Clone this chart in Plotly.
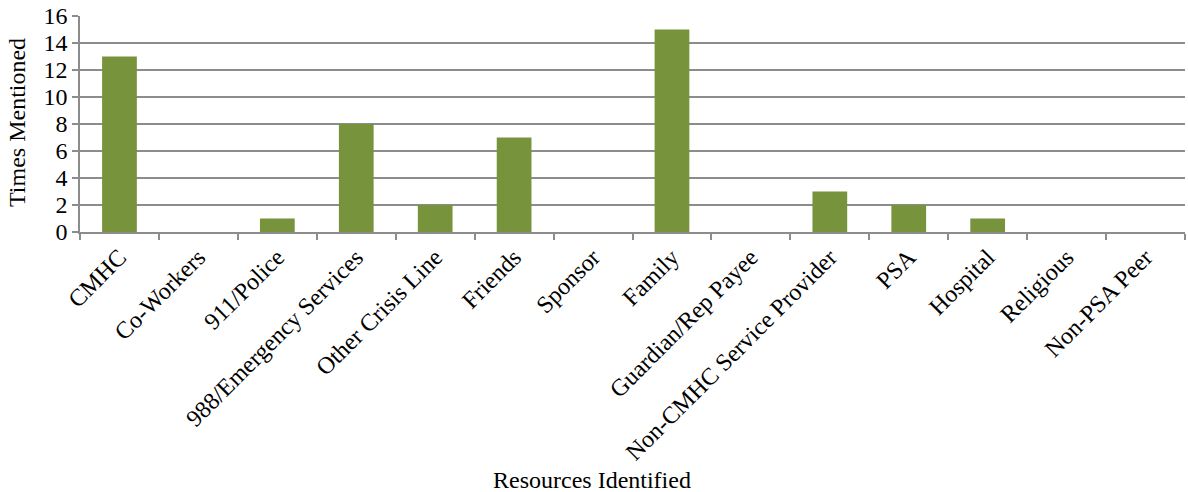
import plotly.graph_objects as go

categories = ["CMHC", "Co-Workers", "911/Police", "988/Emergency Services",
              "Other Crisis Line", "Friends", "Sponsor", "Family",
              "Guardian/Rep Payee", "Non-CMHC Service Provider", "PSA",
              "Hospital", "Religious", "Non-PSA Peer"]
times_mentioned = [13, 0, 1, 8, 2, 7, 0, 15, 0, 3, 2, 1, 0, 0]
y_ticks = [0, 2, 4, 6, 8, 10, 12, 14, 16]

FONT = "Liberation Serif, Times New Roman, serif"
GRID = "#8c8c8c"
SIZE = 24

fig = go.Figure(go.Bar(
    x=categories,
    y=times_mentioned,
    marker=dict(color="#77933C", line=dict(width=0)),
))

fig.update_layout(
    width=1188, height=492,
    margin=dict(l=80, r=3, t=16, b=260),
    paper_bgcolor="white", plot_bgcolor="white",
    font=dict(family=FONT, size=SIZE, color="black"),
    bargap=0.56,
    showlegend=False,
)

fig.update_xaxes(
    type="category",
    tickangle=-45,
    tickson="boundaries",
    ticks="outside", ticklen=6, tickcolor=GRID, tickwidth=1.5,
    showline=True, linecolor=GRID, linewidth=1.5,
    showgrid=False,
    tickfont=dict(family=FONT, size=SIZE),
)

fig.update_yaxes(
    range=[0, 16],
    tickvals=y_ticks,
    ticks="outside", ticklen=6, tickcolor=GRID, tickwidth=1.5,
    showline=True, linecolor=GRID, linewidth=1.5,
    showgrid=True, gridcolor=GRID, gridwidth=1.5,
    zeroline=False,
    tickfont=dict(family=FONT, size=SIZE),
)

# Axis titles placed as annotations (pixel offsets from the plot area)
fig.add_annotation(
    text="Resources Identified", showarrow=False,
    xref="paper", yref="paper", x=(592 - 80) / 1105, y=(232 - 480) / 216,
    xanchor="center", yanchor="middle",
    font=dict(family=FONT, size=SIZE),
)
fig.add_annotation(
    text="Times Mentioned", showarrow=False, textangle=-90,
    xref="paper", yref="paper", x=(17 - 80) / 1105, y=(232 - 123) / 216,
    xanchor="center", yanchor="middle",
    font=dict(family=FONT, size=SIZE),
)

fig.write_html("out.html")
